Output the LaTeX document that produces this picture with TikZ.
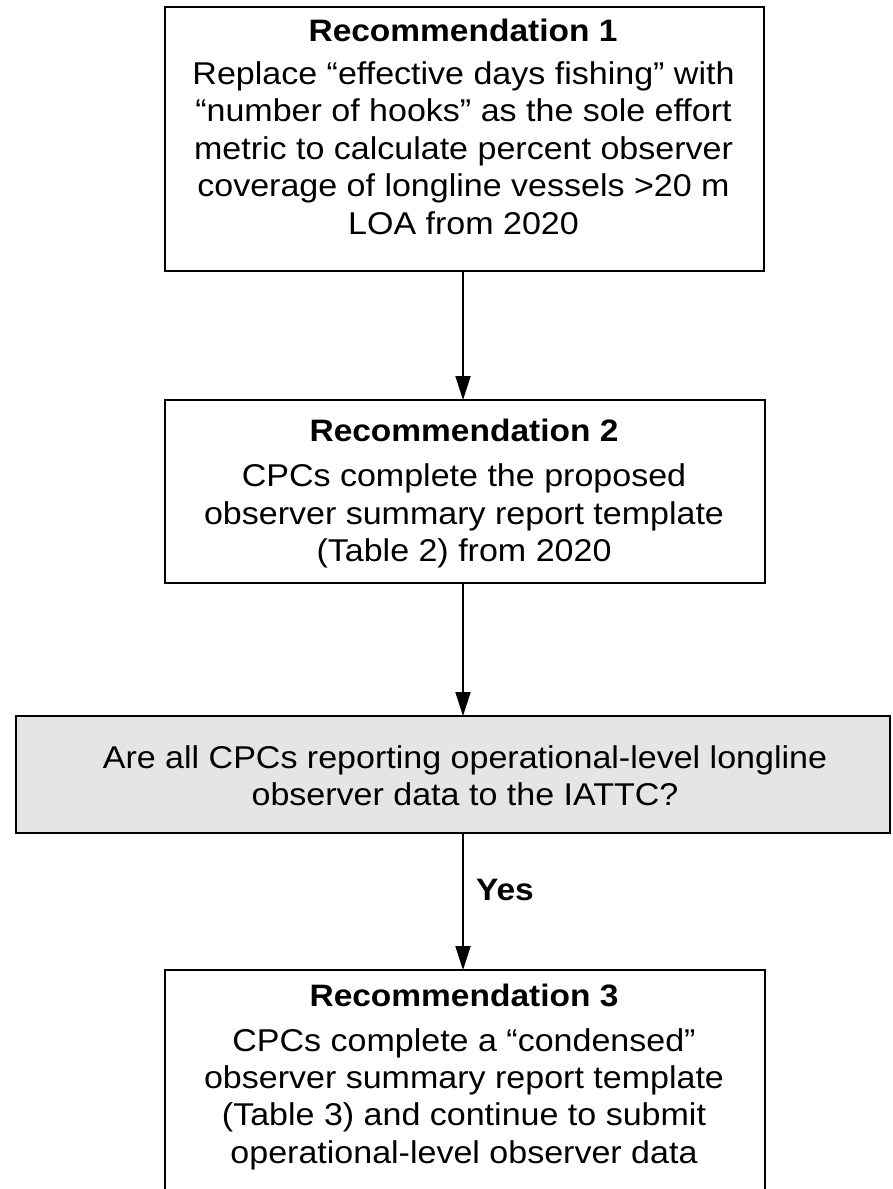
\documentclass[tikz,border=0pt]{standalone}
\usepackage{fontspec}
\setmainfont{Liberation Sans}
\newfontfamily\stretchsans[FakeStretch=1.08]{Liberation Sans}
\usetikzlibrary{arrows.meta}
\begin{document}
\begin{tikzpicture}[x=1pt,y=-1pt,
  box/.style={draw=black,line width=1.8pt,inner sep=0pt,outer sep=0pt},
  ttl/.style={inner sep=0pt,font=\stretchsans\fontsize{31}{37.3}\selectfont\bfseries},
  body/.style={inner sep=0pt,align=center,font=\stretchsans\fontsize{31.5}{37.4}\selectfont},
  arr/.style={line width=1.8pt,-{Triangle[width=15pt,length=24pt]}}]
\useasboundingbox (0,0) rectangle (892,1189);
\clip (0,0) rectangle (892,1189);
\node[box,minimum width=599pt,minimum height=264pt] (b1) at (464.5,139) {};
\node[box,minimum width=600pt,minimum height=183pt] (b2) at (465,491.5) {};
\node[box,fill=black!10,minimum width=874pt,minimum height=117pt] (b3) at (453,774.5) {};
\node[box,minimum width=600pt,minimum height=260pt] (b4) at (465,1100) {};
\node[ttl] (t1) at (463,30) {Recommendation 1};
\node[body] (x1) at (463.5,148) {Replace “effective days fishing” with\\“number of hooks” as the sole effort\\metric to calculate percent observer\\coverage of longline vessels >20 m\\LOA from 2020};
\node[ttl] (t2) at (464,430) {Recommendation 2};
\node[body] (x2) at (464,516) {CPCs complete the proposed\\observer summary report template\\(Table 2) from 2020};
\node[body] (x3) at (465,776) {Are all CPCs reporting operational-level longline\\observer data to the IATTC?};
\node[ttl] (t4) at (464,995) {Recommendation 3};
\node[body] (x4) at (464,1099) {CPCs complete a “condensed”\\observer summary report template\\(Table 3) and continue to submit\\operational-level observer data};
\coordinate (a1s) at (463,271);
\coordinate (a1e) at (463,400);
\coordinate (a2s) at (463,583);
\coordinate (a2e) at (463,716);
\coordinate (a3s) at (463,833);
\coordinate (a3e) at (463,970);
\draw[arr] (a1s) -- (a1e);
\draw[arr] (a2s) -- (a2e);
\draw[arr] (a3s) -- (a3e);
\node[ttl] (yes) at (505,890) {Yes};
\end{tikzpicture}
\end{document}
